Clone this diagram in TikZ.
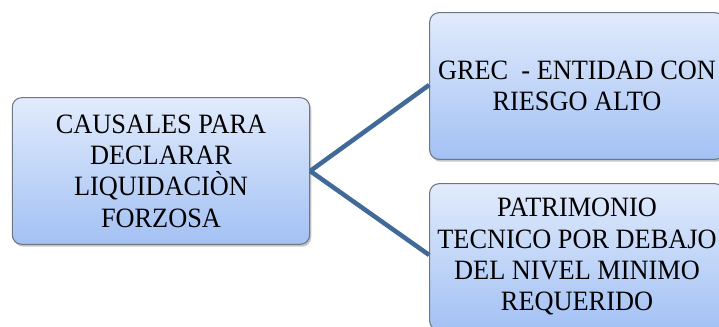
\documentclass[tikz,border=0pt]{standalone}
\usepackage{fontspec}
\setmainfont[FakeStretch=0.94]{Liberation Serif}
\usetikzlibrary{shadows}
\definecolor{boxtop}{HTML}{E1EBFC}
\definecolor{boxbot}{HTML}{A3C1F4}
\definecolor{boxline}{HTML}{6E7680}
\definecolor{linkblue}{HTML}{426A99}
\begin{document}
\begin{tikzpicture}[x=0.75pt,y=-0.75pt,
  causebox/.style={draw=boxline, line width=0.8pt, rounded corners=7pt,
    top color=boxtop, bottom color=boxbot,
    drop shadow={shadow xshift=1.2pt, shadow yshift=-1.8pt, opacity=0.45},
    minimum width=221pt, minimum height=110pt, align=center,
    font=\fontsize{21}{23.5}\selectfont, inner sep=2pt},
  link/.style={draw=linkblue, line width=3.4pt}]
\useasboundingbox (0,0) rectangle (719,327);
\node[causebox, minimum width=223pt] (causa) at (161,171) {CAUSALES PARA\\DECLARAR\\LIQUIDACIÒN\\FORZOSA};
\node[causebox] (grec) at (577,86) {GREC\ \ - ENTIDAD CON\\RIESGO ALTO};
\node[causebox] (patrim) at (577,257) {PATRIMONIO\\TECNICO POR DEBAJO\\DEL NIVEL MINIMO\\REQUERIDO};
\coordinate (nudo) at (causa.east);
\draw[link] (nudo) -- (grec.west |- 0,85);
\draw[link] (nudo) -- (patrim.west |- 0,255);
\end{tikzpicture}
\end{document}
